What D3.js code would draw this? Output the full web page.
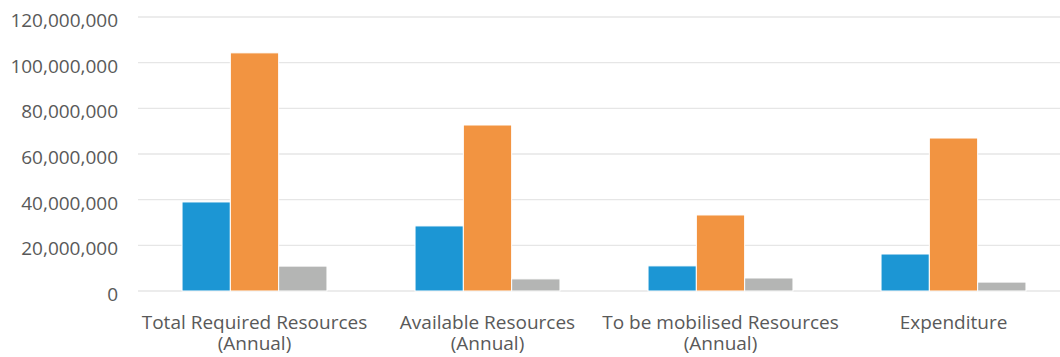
<!DOCTYPE html>
<html>
<head>
<meta charset="utf-8">
<script src="https://cdn.jsdelivr.net/npm/d3@7"></script>
<style>
  html, body { margin: 0; padding: 0; background: #fff; }
  svg { display: block; }
  text { font-family: "Open Sans", "Noto Sans", sans-serif; fill: #595959; }
</style>
</head>
<body>
<svg id="chart" width="1060" height="357"></svg>
<script>
// Resource categories (x axis), each split in two lines
const categories = [
  ["Total Required Resources", "(Annual)"],
  ["Available Resources", "(Annual)"],
  ["To be mobilised Resources", "(Annual)"],
  ["Expenditure"]
];
const seriesNames = ["Series 1", "Series 2", "Series 3"];
const series1 = [39000000, 28500000, 11000000, 16200000];
const series2 = [104300000, 72700000, 33300000, 67000000];
const series3 = [10900000, 5300000, 5700000, 3900000];
const yTicks = [0, 20000000, 40000000, 60000000, 80000000, 100000000, 120000000];
const colors = ["#1c96d4", "#f29441", "#b4b5b4"];

const svg = d3.select("#chart");
const margin = { left: 138, right: -10, top: 17, bottom: 66 };
const W = 1060, H = 357;

const y = d3.scaleLinear()
  .domain([0, 120000000])
  .range([H - margin.bottom, margin.top]);

const x0 = d3.scaleBand()
  .domain(d3.range(categories.length))
  .range([margin.left, W - margin.right])
  .paddingInner(0.378)
  .paddingOuter(0.189);

const x1 = d3.scaleBand()
  .domain(d3.range(seriesNames.length))
  .range([0, x0.bandwidth()]);

// Horizontal gridlines
svg.append("g")
  .selectAll("line")
  .data(yTicks)
  .join("line")
  .attr("x1", margin.left)
  .attr("x2", W)
  .attr("y1", d => y(d))
  .attr("y2", d => y(d))
  .attr("stroke", "#e6e6e6")
  .attr("stroke-width", 1.3);

// Y axis labels
const yAxis = d3.axisLeft(y)
  .tickValues(yTicks)
  .tickFormat(d3.format(","))
  .tickSize(0)
  .tickPadding(0);
const yg = svg.append("g")
  .attr("transform", `translate(${118},0)`)
  .call(yAxis);
yg.select(".domain").remove();
yg.selectAll("text")
  .attr("dy", "0.5em")
  .style("font-size", "19px")
  .attr("fill", "#595959");

// Bars
const table = categories.map((c, i) => [series1[i], series2[i], series3[i]]);
svg.append("g")
  .selectAll("g")
  .data(table)
  .join("g")
  .attr("transform", (d, i) => `translate(${x0(i)},0)`)
  .selectAll("rect")
  .data(d => d.map((v, k) => ({ v, k })))
  .join("rect")
  .attr("x", d => x1(d.k))
  .attr("width", x1.bandwidth())
  .attr("y", d => y(d.v))
  .attr("height", d => y(0) - y(d.v))
  .attr("fill", d => colors[d.k])
  .attr("stroke", "#fff")
  .attr("stroke-width", 1);

// Category labels, one text element per line
const xg = svg.append("g");
categories.forEach((lines, i) => {
  lines.forEach((ln, j) => {
    xg.append("text")
      .attr("text-anchor", "middle")
      .attr("x", x0(i) + x0.bandwidth() / 2)
      .attr("y", 329 + j * 21)
      .style("font-size", "19px")
      .text(ln);
  });
});
</script>
</body>
</html>
